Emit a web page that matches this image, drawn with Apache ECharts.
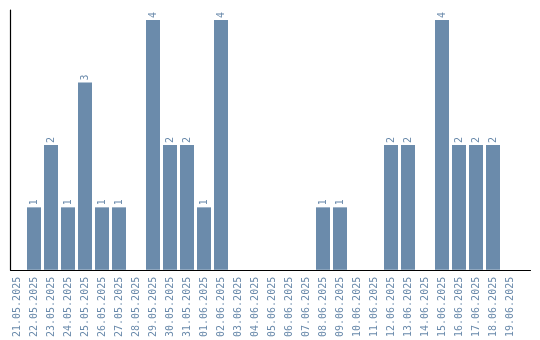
<!DOCTYPE html>
<html>
<head>
<meta charset="utf-8">
<script src="https://cdn.jsdelivr.net/npm/echarts@6/dist/echarts.min.js"></script>
<style>html,body{margin:0;padding:0;background:#fff}#c{width:540px;height:340px}</style>
</head>
<body>
<div id="c"></div>
<script>
const categories = ['21.05.2025','22.05.2025','23.05.2025','24.05.2025','25.05.2025','26.05.2025','27.05.2025','28.05.2025','29.05.2025','30.05.2025','31.05.2025','01.06.2025','02.06.2025','03.06.2025','04.06.2025','05.06.2025','06.06.2025','07.06.2025','08.06.2025','09.06.2025','10.06.2025','11.06.2025','12.06.2025','13.06.2025','14.06.2025','15.06.2025','16.06.2025','17.06.2025','18.06.2025','19.06.2025'];
const values = [0,1,2,1,3,1,1,0,4,2,2,1,4,0,0,0,0,0,1,1,0,0,2,2,0,4,2,2,2,0];
const yMax = 4.16;
const barColor = '#6b8bab';
const textColor = '#6a8aab';
const fontFamily = 'DejaVu Sans Mono';

const chart = echarts.init(document.getElementById('c'), null, {renderer: 'canvas'});
chart.setOption({
  animation: false,
  grid: [
    {left: 10.5, top: 10, width: 520, height: 260},
    {left: 8.5, top: 10, width: 510, height: 260}
  ],
  xAxis: [
    {gridIndex: 0, type: 'value', min: 0, max: 1, axisLine: {show: true, onZero: false, lineStyle: {color: '#000', width: 1.2}}, axisTick: {show: false}, axisLabel: {show: false}, splitLine: {show: false}},
    {gridIndex: 1, type: 'category', data: categories, boundaryGap: true,
      axisLine: {show: false}, axisTick: {show: false}, splitLine: {show: false},
      axisLabel: {interval: 0, rotate: 90, color: textColor, fontFamily: fontFamily, fontSize: 10, margin: 7}}
  ],
  yAxis: [
    {gridIndex: 0, type: 'value', min: 0, max: yMax, axisLine: {show: true, onZero: false, lineStyle: {color: '#000', width: 1.2}}, axisTick: {show: false}, axisLabel: {show: false}, splitLine: {show: false}},
    {gridIndex: 1, type: 'value', min: 0, max: yMax, show: false, splitLine: {show: false}}
  ],
  series: [{
    type: 'bar',
    xAxisIndex: 1,
    yAxisIndex: 1,
    data: values.map(v => v === 0 ? null : v),
    barWidth: 14,
    itemStyle: {color: barColor},
    label: {show: true, position: 'top', rotate: 90, align: 'left', verticalAlign: 'middle', distance: 2,
      color: textColor, fontFamily: fontFamily, fontSize: 10}
  }]
});
</script>
</body>
</html>
